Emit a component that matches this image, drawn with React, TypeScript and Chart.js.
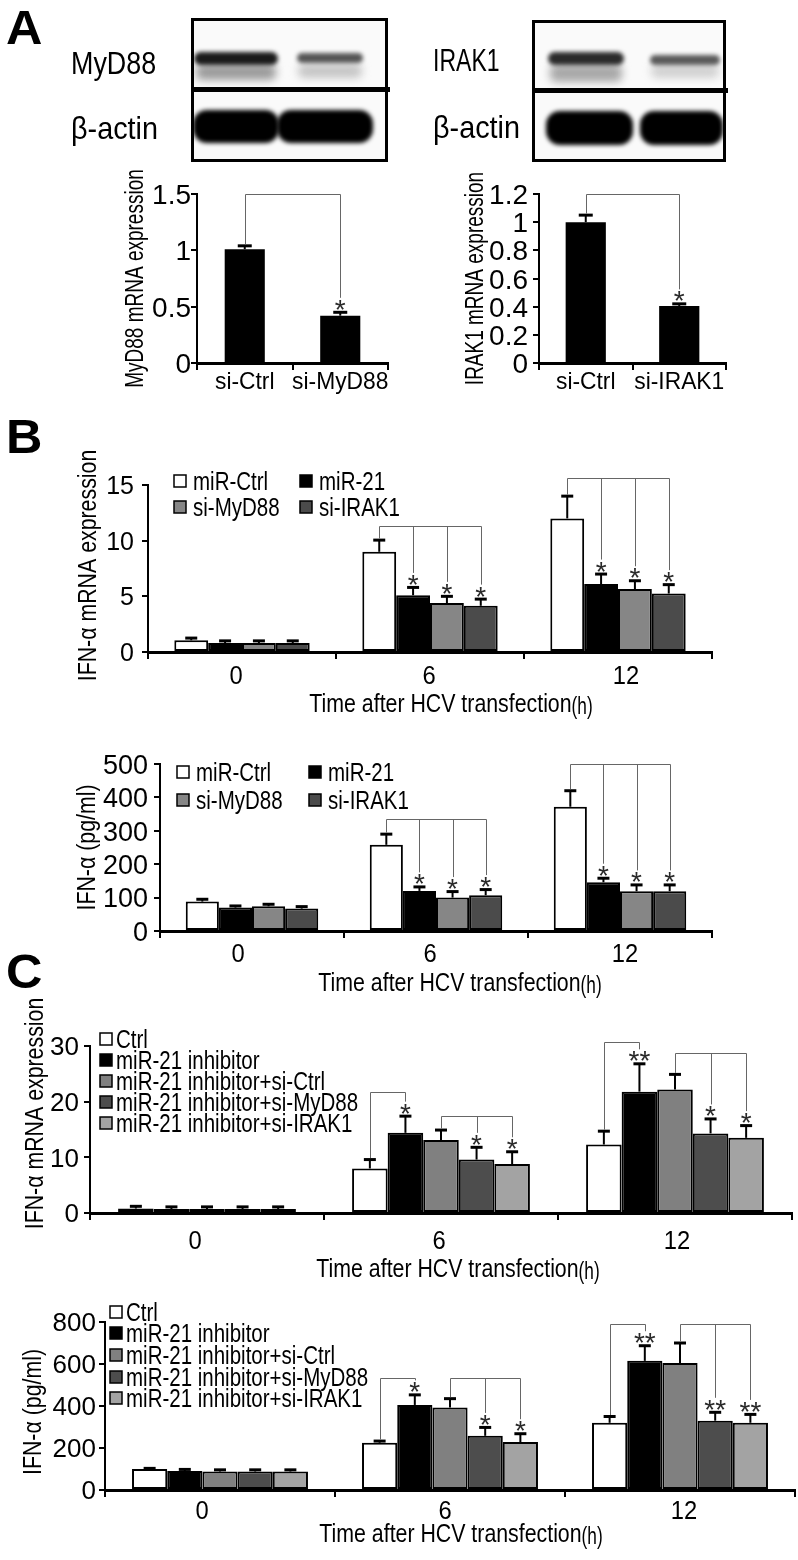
import React, { useEffect, useRef } from 'react';
import { Chart, registerables } from 'chart.js';

Chart.register(...registerables);

const FAMILY = "'Liberation Sans', Arial, Helvetica, sans-serif";
const SX = 0.82; // horizontal condensing of the lettering
Chart.defaults.font.family = FAMILY;
Chart.defaults.color = '#000';

// ================= DATA =================
// Panel A – knock-down efficiency
const aMyD88Labels = ['si-Ctrl', 'si-MyD88'];
const aMyD88Values = [1.01, 0.42];
const aMyD88Errors = [0.03, 0.03];
const aMyD88Stars = ['', '*'];

const aIRAK1Labels = ['si-Ctrl', 'si-IRAK1'];
const aIRAK1Values = [1.0, 0.405];
const aIRAK1Errors = [0.05, 0.015];
const aIRAK1Stars = ['', '*'];

// Panel B
const timeLabels = ['0', '6', '12'];
const bSeriesNames = ['miR-Ctrl', 'miR-21', 'si-MyD88', 'si-IRAK1'];
const bSeriesColors = ['#ffffff', '#000000', '#868686', '#4b4b4b'];

const bMrnaMiRCtrl = [1.05, 9.0, 12.0];
const bMrnaMiRCtrlErr = [0.2, 1.05, 2.0];
const bMrnaMiR21 = [0.8, 5.1, 6.1];
const bMrnaMiR21Err = [0.2, 0.7, 0.9];
const bMrnaSiMyD88 = [0.8, 4.4, 5.65];
const bMrnaSiMyD88Err = [0.2, 0.6, 0.75];
const bMrnaSiIRAK1 = [0.8, 4.15, 5.25];
const bMrnaSiIRAK1Err = [0.2, 0.6, 0.8];
const bMrnaStars = [['', '', ''], ['', '*', '*'], ['', '*', '*'], ['', '*', '*']];
const bMrnaBracketLevels = [11.3, 15.6]; // 6 h, 12 h

const bProtMiRCtrl = [88, 258, 372];
const bProtMiRCtrlErr = [7, 32, 48];
const bProtMiR21 = [70, 120, 146];
const bProtMiR21Err = [5, 12, 12];
const bProtSiMyD88 = [74, 100, 119];
const bProtSiMyD88Err = [6, 18, 19];
const bProtSiIRAK1 = [67, 107, 119];
const bProtSiIRAK1Err = [6, 17, 19];
const bProtStars = [['', '', ''], ['', '*', '*'], ['', '*', '*'], ['', '*', '*']];
const bProtBracketLevels = [335, 500];

// Panel C
const cSeriesNames = ['Ctrl', 'miR-21 inhibitor', 'miR-21 inhibitor+si-Ctrl', 'miR-21 inhibitor+si-MyD88', 'miR-21 inhibitor+si-IRAK1'];
const cSeriesColors = ['#ffffff', '#000000', '#808080', '#4d4d4d', '#a3a3a3'];

const cMrnaCtrl = [0.8, 8.0, 12.3];
const cMrnaCtrlErr = [0.4, 1.6, 2.4];
const cMrnaInh = [0.7, 14.4, 21.8];
const cMrnaInhErr = [0.4, 3.0, 5.0];
const cMrnaInhSiCtrl = [0.7, 13.1, 22.2];
const cMrnaInhSiCtrlErr = [0.4, 1.8, 2.7];
const cMrnaInhSiMyD88 = [0.7, 9.6, 14.3];
const cMrnaInhSiMyD88Err = [0.4, 2.2, 2.6];
const cMrnaInhSiIRAK1 = [0.7, 8.8, 13.5];
const cMrnaInhSiIRAK1Err = [0.4, 2.2, 2.2];
const cMrnaStars = [['', '', ''], ['', '*', '**'], ['', '', ''], ['', '*', '*'], ['', '*', '*']];
const cMrnaBracketLevels = [[21.8, 17.5], [30.8, 28.8]]; // [6h: ctrl→inh, siCtrl→others], [12h ...]

const cProtCtrl = [100, 225, 320];
const cProtCtrlErr = [3, 8, 30];
const cProtInh = [90, 405, 615];
const cProtInhErr = [8, 48, 72];
const cProtInhSiCtrl = [88, 393, 605];
const cProtInhSiCtrlErr = [8, 42, 95];
const cProtInhSiMyD88 = [88, 258, 330];
const cProtInhSiMyD88Err = [8, 40, 40];
const cProtInhSiIRAK1 = [88, 228, 320];
const cProtInhSiIRAK1Err = [8, 40, 40];
const cProtStars = [['', '', ''], ['', '*', '**'], ['', '', ''], ['', '*', '**'], ['', '*', '**']];
const cProtBracketLevels = [[531, 531], [790, 790]];

// ================= TEXT HELPER =================
function drawText(
  ctx: CanvasRenderingContext2D,
  text: string,
  x: number,
  y: number,
  size: number,
  align: CanvasTextAlign,
  sx: number,
  rotate = false,
) {
  ctx.save();
  ctx.translate(x, y);
  if (rotate) ctx.rotate(-Math.PI / 2);
  ctx.scale(sx, 1);
  ctx.font = `${size}px ${FAMILY}`;
  ctx.fillStyle = '#000';
  ctx.textAlign = align;
  ctx.textBaseline = 'alphabetic';
  ctx.fillText(text, 0, 0);
  ctx.restore();
}
const CAP = 0.36; // half cap-height as a fraction of font size

const fmtTick = (v: number) => String(Number(v.toFixed(2)));

// ================= PLUGINS =================
type Bracket = { from: [number, number]; to: [number, number][]; level: number };

function annotPlugin(errors: number[][], stars: string[][], brackets: Bracket[], capHalf: number) {
  return {
    id: 'annot',
    afterDatasetsDraw(chart: any) {
      const ctx = chart.ctx;
      const ys = chart.scales.y;
      const capW = 3;
      const starFont = `28px ${FAMILY}`;
      ctx.save();
      ctx.font = starFont;
      const m = ctx.measureText('*');
      const sAsc = m.actualBoundingBoxAscent;
      const sDesc = m.actualBoundingBoxDescent;
      const tops: { x: number; errTop: number; starTop: number }[][] = [];
      chart.data.datasets.forEach((ds: any, di: number) => {
        const meta = chart.getDatasetMeta(di);
        tops[di] = [];
        meta.data.forEach((bar: any, j: number) => {
          const v = ds.data[j];
          const e = (errors[di] && errors[di][j]) || 0;
          const x = bar.x;
          const y0 = ys.getPixelForValue(v);
          const y1 = ys.getPixelForValue(v + e);
          let errTop = y0;
          if (e > 0) {
            ctx.strokeStyle = '#000';
            ctx.lineWidth = 2;
            ctx.beginPath();
            ctx.moveTo(x, y0);
            ctx.lineTo(x, y1);
            ctx.stroke();
            ctx.lineWidth = capW;
            ctx.beginPath();
            ctx.moveTo(x - capHalf, y1);
            ctx.lineTo(x + capHalf, y1);
            ctx.stroke();
            errTop = y1 - capW / 2;
          }
          let starTop = errTop;
          const st = stars[di] && stars[di][j];
          if (st) {
            const bottom = errTop - 1;
            const baseline = bottom - sDesc;
            ctx.fillStyle = '#2a2a2a';
            ctx.textAlign = 'center';
            ctx.textBaseline = 'alphabetic';
            ctx.font = starFont;
            ctx.fillText(st, x, baseline);
            starTop = baseline - sAsc;
          }
          tops[di][j] = { x, errTop, starTop };
        });
      });
      ctx.strokeStyle = '#666';
      ctx.lineWidth = 1;
      brackets.forEach((b) => {
        const yl = Math.round(ys.getPixelForValue(b.level)) + 0.5;
        const f = tops[b.from[0]][b.from[1]];
        const fx = Math.round(f.x) + 0.5;
        const xs = b.to.map((t) => Math.round(tops[t[0]][t[1]].x) + 0.5);
        ctx.beginPath();
        ctx.moveTo(fx, f.errTop);
        ctx.lineTo(fx, yl);
        ctx.lineTo(Math.max(...xs), yl);
        b.to.forEach((t, k) => {
          const p = tops[t[0]][t[1]];
          ctx.moveTo(xs[k], yl);
          ctx.lineTo(xs[k], p.starTop - 2);
        });
        ctx.stroke();
      });
      ctx.restore();
    },
  };
}

// ================= CHART BUILDER =================
type Box = { left: number; top: number; width: number; height: number };
type LegendItem = { index: number; x: number; y: number };
type Spec = {
  box: Box;
  axisLeft: number;
  axisRight: number;
  axisTop: number;
  axisBottom: number;
  labels: string[];
  names: string[];
  colors: string[];
  values: number[][];
  errors: number[][];
  stars: string[][];
  brackets: Bracket[];
  yMax: number;
  yStep: number;
  yTickSize: number;
  yTickGap: number;
  yTitle: string;
  yTitleSize: number;
  yTitleSX: number;
  yTitleCenter: number;
  yTitleShift: number;
  xTickSize: number;
  xTickSX: number;
  xLabelY: number;
  xLabelShift: number[];
  catPct: number;
  barPct: number;
  barBorder: number;
  capHalf: number;
  legend?: { items: LegendItem[]; size: number; box: number; gap: number };
  xTitle?: { cx: number; cy: number };
};

function textPlugin(s: Spec) {
  return {
    id: 'texts',
    afterDraw(chart: any) {
      const ctx: CanvasRenderingContext2D = chart.ctx;
      const xs = chart.scales.x;
      const ys = chart.scales.y;
      const area = chart.chartArea;
      const ox = s.box.left;
      const oy = s.box.top;
      // y tick labels
      ys.ticks.forEach((t: any) => {
        drawText(ctx, fmtTick(t.value), area.left - s.yTickGap, ys.getPixelForValue(t.value) + CAP * s.yTickSize, s.yTickSize, 'right', 1);
      });
      // x tick labels
      (chart.data.labels as string[]).forEach((lb, i) => {
        drawText(ctx, lb, xs.getPixelForValue(i) + (s.xLabelShift[i] || 0), s.xLabelY - oy + CAP * s.xTickSize, s.xTickSize, 'center', s.xTickSX);
      });
      // y title
      drawText(
        ctx,
        s.yTitle,
        s.yTitleCenter - ox + CAP * s.yTitleSize,
        (area.top + area.bottom) / 2 + s.yTitleShift,
        s.yTitleSize,
        'center',
        s.yTitleSX,
        true,
      );
      // x title
      if (s.xTitle) {
        const main = 'Time after HCV transfection';
        const suf = '(h)';
        ctx.save();
        ctx.font = `26px ${FAMILY}`;
        const w1 = ctx.measureText(main).width * SX;
        ctx.font = `23px ${FAMILY}`;
        const w2 = ctx.measureText(suf).width * 0.75;
        ctx.restore();
        const x0 = s.xTitle.cx - ox - (w1 + w2) / 2;
        const base = s.xTitle.cy - oy + CAP * 26;
        drawText(ctx, main, x0, base, 26, 'left', SX);
        drawText(ctx, suf, x0 + w1, base + 2, 23, 'left', 0.75);
      }
      // legend
      if (s.legend) {
        const L = s.legend;
        L.items.forEach((it) => {
          const ds = chart.data.datasets[it.index];
          const bx = it.x - ox;
          const by = it.y - oy;
          ctx.save();
          ctx.fillStyle = ds.backgroundColor;
          ctx.fillRect(bx, by - L.box / 2, L.box, L.box);
          ctx.strokeStyle = '#000';
          ctx.lineWidth = 1.5;
          ctx.strokeRect(bx, by - L.box / 2, L.box, L.box);
          ctx.restore();
          drawText(ctx, ds.label, bx + L.box + L.gap, by + CAP * L.size, L.size, 'left', SX);
        });
      }
    },
  };
}

function buildConfig(s: Spec): any {
  const yAxisWidth = s.axisLeft - s.box.left;
  const padTop = s.axisTop - s.box.top;
  const padRight = s.box.left + s.box.width - s.axisRight;
  const xAxisHeight = s.box.top + s.box.height - s.axisBottom;
  return {
    type: 'bar',
    data: {
      labels: s.labels,
      datasets: s.values.map((vals, i) => ({
        label: s.names[i],
        data: vals,
        backgroundColor: s.colors[i],
        borderColor: '#000',
        borderWidth: s.barBorder,
        borderSkipped: false,
        categoryPercentage: s.catPct,
        barPercentage: s.barPct,
      })),
    },
    options: {
      responsive: false,
      animation: false,
      devicePixelRatio: 1,
      layout: { padding: { left: 0, top: padTop, right: padRight, bottom: 0 } },
      plugins: { legend: { display: false }, tooltip: { enabled: false }, title: { display: false } },
      scales: {
        x: {
          grid: { display: true, drawOnChartArea: false, drawTicks: true, tickLength: 7, color: '#000', lineWidth: 2 },
          border: { display: true, color: '#000', width: 3 },
          ticks: { display: false, autoSkip: false },
          afterFit: (sc: any) => {
            sc.height = xAxisHeight;
          },
        },
        y: {
          min: 0,
          max: s.yMax,
          ticks: { display: false, stepSize: s.yStep },
          grid: { display: true, drawOnChartArea: false, drawTicks: true, tickLength: 6, color: '#000', lineWidth: 2 },
          border: { display: true, color: '#000', width: 2 },
          title: { display: false },
          afterFit: (sc: any) => {
            sc.width = yAxisWidth;
          },
        },
      },
    },
    plugins: [annotPlugin(s.errors, s.stars, s.brackets, s.capHalf), textPlugin(s)],
  };
}

function BarChart({ spec }: { spec: Spec }) {
  const ref = useRef<HTMLCanvasElement>(null);
  useEffect(() => {
    const chart = new Chart(ref.current as HTMLCanvasElement, buildConfig(spec));
    return () => chart.destroy();
  }, [spec]);
  return (
    <canvas
      ref={ref}
      width={spec.box.width}
      height={spec.box.height}
      style={{ position: 'absolute', left: spec.box.left, top: spec.box.top, width: spec.box.width, height: spec.box.height }}
    />
  );
}

// ================= SPECS =================
const bBracketsFor = (levels: number[]): Bracket[] =>
  levels.map((lv, k) => ({ from: [0, k + 1] as [number, number], to: [[1, k + 1], [2, k + 1], [3, k + 1]] as [number, number][], level: lv }));

const cBracketsFor = (levels: number[][]): Bracket[] => {
  const out: Bracket[] = [];
  levels.forEach((pair, k) => {
    const g = k + 1;
    out.push({ from: [0, g], to: [[1, g]], level: pair[0] });
    out.push({ from: [2, g], to: [[3, g], [4, g]], level: pair[1] });
  });
  return out;
};

const specA1: Spec = {
  box: { left: 100, top: 160, width: 292, height: 240 },
  axisLeft: 197, axisRight: 388, axisTop: 194, axisBottom: 363,
  labels: aMyD88Labels, names: ['MyD88'], colors: ['#000000'],
  values: [aMyD88Values], errors: [aMyD88Errors], stars: [aMyD88Stars],
  brackets: [{ from: [0, 0], to: [[0, 1]], level: 1.5 }],
  yMax: 1.5, yStep: 0.5, yTickSize: 28, yTickGap: 6,
  yTitle: 'MyD88 mRNA expression', yTitleSize: 25, yTitleSX: 0.76, yTitleCenter: 134, yTitleShift: 0,
  xTickSize: 24, xTickSX: 0.95, xLabelY: 380, xLabelShift: [0, 0],
  catPct: 1, barPct: 0.42, barBorder: 0, capHalf: 7,
};

const specA2: Spec = {
  box: { left: 442, top: 160, width: 288, height: 240 },
  axisLeft: 539, axisRight: 726, axisTop: 194, axisBottom: 363,
  labels: aIRAK1Labels, names: ['IRAK1'], colors: ['#000000'],
  values: [aIRAK1Values], errors: [aIRAK1Errors], stars: [aIRAK1Stars],
  brackets: [{ from: [0, 0], to: [[0, 1]], level: 1.2 }],
  yMax: 1.2, yStep: 0.2, yTickSize: 28, yTickGap: 11,
  yTitle: 'IRAK1 mRNA expression', yTitleSize: 25, yTitleSX: 0.76, yTitleCenter: 474, yTitleShift: 0,
  xTickSize: 24, xTickSX: 0.95, xLabelY: 380, xLabelShift: [0, 0],
  catPct: 1, barPct: 0.43, barBorder: 0, capHalf: 7,
};

const specB1: Spec = {
  box: { left: 60, top: 440, width: 658, height: 280 },
  axisLeft: 148, axisRight: 712, axisTop: 485, axisBottom: 652,
  labels: timeLabels, names: bSeriesNames, colors: bSeriesColors,
  values: [bMrnaMiRCtrl, bMrnaMiR21, bMrnaSiMyD88, bMrnaSiIRAK1],
  errors: [bMrnaMiRCtrlErr, bMrnaMiR21Err, bMrnaSiMyD88Err, bMrnaSiIRAK1Err],
  stars: bMrnaStars, brackets: bBracketsFor(bMrnaBracketLevels),
  yMax: 15, yStep: 5, yTickSize: 25, yTickGap: 14,
  yTitle: 'IFN-α mRNA expression', yTitleSize: 26, yTitleSX: SX, yTitleCenter: 87, yTitleShift: -3,
  xTickSize: 25, xTickSX: 0.95, xLabelY: 675, xLabelShift: [-6, -1, 8],
  catPct: 0.72, barPct: 1, barBorder: 2, capHalf: 6,
  legend: {
    items: [
      { index: 0, x: 174, y: 481 }, { index: 1, x: 300, y: 481 },
      { index: 2, x: 174, y: 507 }, { index: 3, x: 300, y: 507 },
    ],
    size: 25, box: 12, gap: 7,
  },
  xTitle: { cx: 451, cy: 703 },
};

const specB2: Spec = {
  box: { left: 60, top: 740, width: 658, height: 260 },
  axisLeft: 160, axisRight: 712, axisTop: 764, axisBottom: 931,
  labels: timeLabels, names: bSeriesNames, colors: bSeriesColors,
  values: [bProtMiRCtrl, bProtMiR21, bProtSiMyD88, bProtSiIRAK1],
  errors: [bProtMiRCtrlErr, bProtMiR21Err, bProtSiMyD88Err, bProtSiIRAK1Err],
  stars: bProtStars, brackets: bBracketsFor(bProtBracketLevels),
  yMax: 500, yStep: 100, yTickSize: 27, yTickGap: 12,
  yTitle: 'IFN-α (pg/ml)', yTitleSize: 26, yTitleSX: SX, yTitleCenter: 86, yTitleShift: 0,
  xTickSize: 25, xTickSX: 0.95, xLabelY: 953, xLabelShift: [-14, -6, 5],
  catPct: 0.72, barPct: 1, barBorder: 2, capHalf: 6,
  legend: {
    items: [
      { index: 0, x: 177, y: 772 }, { index: 1, x: 309, y: 772 },
      { index: 2, x: 177, y: 800 }, { index: 3, x: 309, y: 800 },
    ],
    size: 25, box: 12, gap: 7,
  },
  xTitle: { cx: 460, cy: 982 },
};

const specC1: Spec = {
  box: { left: 0, top: 990, width: 798, height: 295 },
  axisLeft: 90, axisRight: 792, axisTop: 1046, axisBottom: 1213,
  labels: timeLabels, names: cSeriesNames, colors: cSeriesColors,
  values: [cMrnaCtrl, cMrnaInh, cMrnaInhSiCtrl, cMrnaInhSiMyD88, cMrnaInhSiIRAK1],
  errors: [cMrnaCtrlErr, cMrnaInhErr, cMrnaInhSiCtrlErr, cMrnaInhSiMyD88Err, cMrnaInhSiIRAK1Err],
  stars: cMrnaStars, brackets: cBracketsFor(cMrnaBracketLevels),
  yMax: 30, yStep: 10, yTickSize: 26, yTickGap: 11,
  yTitle: 'IFN-α mRNA expression', yTitleSize: 26, yTitleSX: SX, yTitleCenter: 34, yTitleShift: -16,
  xTickSize: 25, xTickSX: 0.95, xLabelY: 1240, xLabelShift: [-12, -2, 2],
  catPct: 0.76, barPct: 1, barBorder: 2, capHalf: 6,
  legend: {
    items: [1039, 1060, 1081, 1102, 1123].map((y, i) => ({ index: i, x: 100, y })),
    size: 25, box: 12, gap: 4,
  },
  xTitle: { cx: 458, cy: 1268 },
};

const specC2: Spec = {
  box: { left: 0, top: 1290, width: 798, height: 270 },
  axisLeft: 105, axisRight: 795, axisTop: 1322, axisBottom: 1490,
  labels: timeLabels, names: cSeriesNames, colors: cSeriesColors,
  values: [cProtCtrl, cProtInh, cProtInhSiCtrl, cProtInhSiMyD88, cProtInhSiIRAK1],
  errors: [cProtCtrlErr, cProtInhErr, cProtInhSiCtrlErr, cProtInhSiMyD88Err, cProtInhSiIRAK1Err],
  stars: cProtStars, brackets: cBracketsFor(cProtBracketLevels),
  yMax: 800, yStep: 200, yTickSize: 26, yTickGap: 9,
  yTitle: 'IFN-α (pg/ml)', yTitleSize: 26, yTitleSX: SX, yTitleCenter: 32, yTitleShift: 6,
  xTickSize: 25, xTickSX: 0.95, xLabelY: 1510, xLabelShift: [-18, -5, 4],
  catPct: 0.765, barPct: 1, barBorder: 2, capHalf: 6,
  legend: {
    items: [1312, 1333, 1355, 1377, 1398].map((y, i) => ({ index: i, x: 110, y })),
    size: 25, box: 12, gap: 4,
  },
  xTitle: { cx: 461, cy: 1533 },
};

// ================= BLOTS (HTML) =================
type Band = { x: number; y: number; w: number; h: number; color: string; blur: number; r?: number };
function Blot({ left, top, width, height, sep, bands }: { left: number; top: number; width: number; height: number; sep: number; bands: Band[] }) {
  return (
    <>
      <div style={{ position: 'absolute', left, top, width, height, background: '#fafafa', overflow: 'hidden' }}>
        {bands.map((b, i) => (
          <div
            key={i}
            style={{
              position: 'absolute',
              left: b.x - left,
              top: b.y - top,
              width: b.w,
              height: b.h,
              background: b.color,
              borderRadius: b.r ?? b.h / 2,
              filter: `blur(${b.blur}px)`,
            }}
          />
        ))}
      </div>
      <div style={{ position: 'absolute', left, top, width, height, border: '3px solid #000', boxSizing: 'border-box' }} />
      <div style={{ position: 'absolute', left, top: sep, width: width + 2, height: 5, background: '#000' }} />
    </>
  );
}

const textStyle = (left: number, top: number, size: number, sx: number, bold = false): React.CSSProperties => ({
  position: 'absolute',
  left,
  top,
  fontFamily: FAMILY,
  fontWeight: bold ? 700 : 400,
  fontSize: size,
  lineHeight: 1,
  color: '#000',
  whiteSpace: 'nowrap',
  transform: `scaleX(${sx})`,
  transformOrigin: 'left center',
});

export default function App() {
  return (
    <div style={{ position: 'absolute', left: 0, top: 0, width: 798, height: 1560, background: '#fff', overflow: 'hidden' }}>
      <div style={textStyle(6, 4, 48, 1.05, true)}>A</div>
      <div style={textStyle(6, 413, 48, 1.05, true)}>B</div>
      <div style={textStyle(6, 948, 48, 1.05, true)}>C</div>

      <div style={textStyle(71, 47, 32, 0.84)}>MyD88</div>
      <div style={textStyle(71, 112, 32, 0.9)}>β-actin</div>
      <div style={textStyle(433, 44, 32, 0.72)}>IRAK1</div>
      <div style={textStyle(433, 111, 32, 0.9)}>β-actin</div>

      <Blot
        left={191}
        top={18}
        width={197}
        height={144}
        sep={87}
        bands={[
          { x: 196, y: 64, w: 80, h: 16, color: '#9a9a9a', blur: 4, r: 6 },
          { x: 194, y: 52, w: 84, h: 13, color: '#1a1a1a', blur: 2 },
          { x: 298, y: 64, w: 64, h: 14, color: '#c4c4c4', blur: 4, r: 6 },
          { x: 297, y: 53, w: 66, h: 10, color: '#555', blur: 2 },
          { x: 193, y: 110, w: 86, h: 33, color: '#000', blur: 2, r: 14 },
          { x: 277, y: 110, w: 96, h: 33, color: '#000', blur: 2, r: 14 },
        ]}
      />
      <Blot
        left={532}
        top={20}
        width={194}
        height={142}
        sep={88}
        bands={[
          { x: 550, y: 64, w: 72, h: 18, color: '#a8a8a8', blur: 4, r: 6 },
          { x: 548, y: 52, w: 76, h: 13, color: '#2b2b2b', blur: 2 },
          { x: 651, y: 64, w: 68, h: 14, color: '#d0d0d0', blur: 4, r: 6 },
          { x: 650, y: 55, w: 70, h: 10, color: '#5a5a5a', blur: 2 },
          { x: 546, y: 111, w: 87, h: 34, color: '#000', blur: 2, r: 14 },
          { x: 640, y: 111, w: 83, h: 34, color: '#000', blur: 2, r: 14 },
        ]}
      />

      <BarChart spec={specA1} />
      <BarChart spec={specA2} />
      <BarChart spec={specB1} />
      <BarChart spec={specB2} />
      <BarChart spec={specC1} />
      <BarChart spec={specC2} />
    </div>
  );
}
